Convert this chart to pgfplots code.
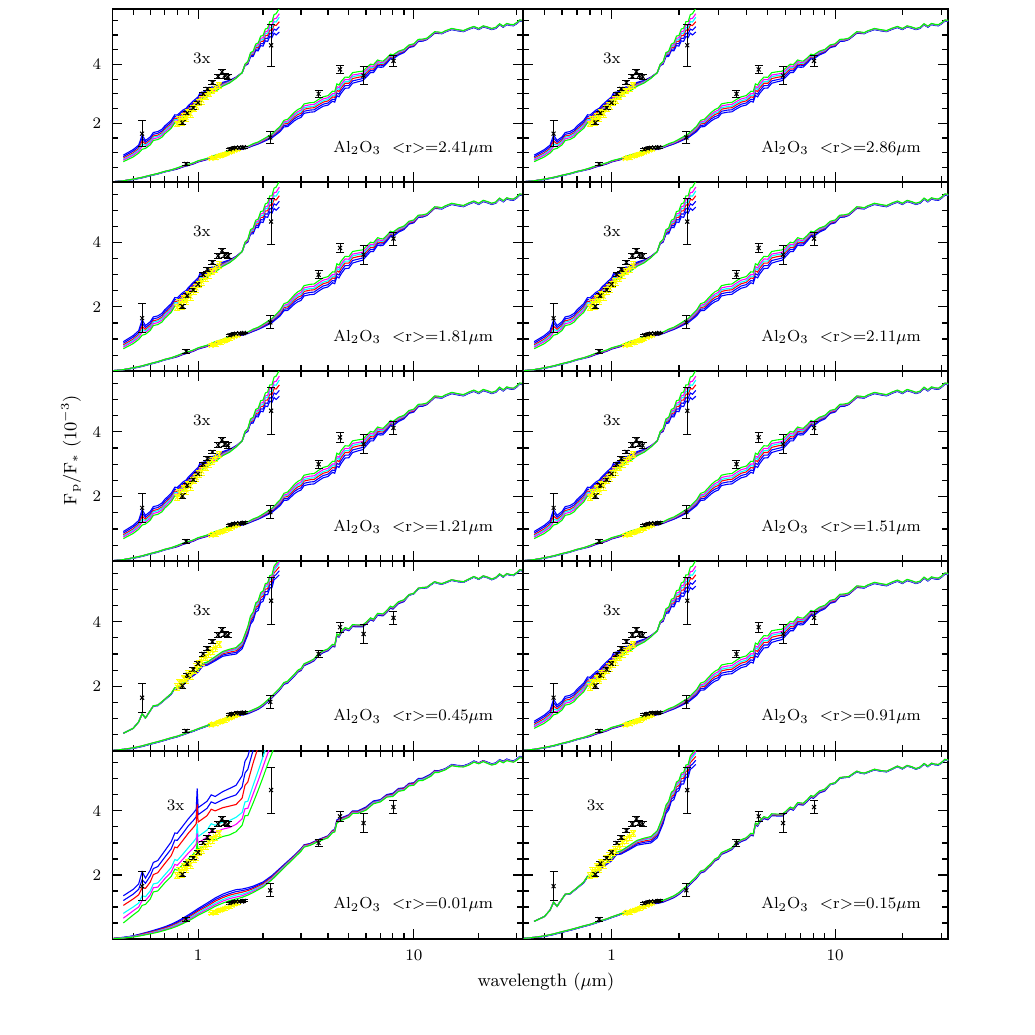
\documentclass[border=0pt]{standalone}
\usepackage{pgfplots}
\pgfplotsset{compat=1.18}
\usepackage{pgfplotstable}

\definecolor{pgb}{RGB}{0,0,255}
\definecolor{pgr}{RGB}{255,0,0}
\definecolor{pgm}{RGB}{255,0,255}
\definecolor{pgc}{RGB}{0,255,255}
\definecolor{pgg}{RGB}{0,255,0}
\definecolor{pgy}{RGB}{255,255,0}

% ---------- lower spectra, type A ----------
\pgfplotstableread{
x b1 b2 r c m g
0.405 0.02 0.02 0.02 0.02 0.02 0.02
0.45 0.05 0.05 0.05 0.05 0.05 0.05
0.5 0.09 0.10 0.10 0.10 0.11 0.11
0.55 0.15 0.16 0.16 0.16 0.17 0.17
0.6 0.22 0.23 0.23 0.23 0.24 0.24
0.65 0.28 0.29 0.29 0.29 0.30 0.30
0.7 0.35 0.36 0.36 0.36 0.37 0.37
0.75 0.40 0.41 0.41 0.41 0.42 0.42
0.8 0.45 0.46 0.47 0.48 0.48 0.49
0.85 0.52 0.53 0.54 0.55 0.55 0.56
0.9 0.57 0.58 0.59 0.60 0.60 0.61
0.95 0.62 0.63 0.64 0.65 0.65 0.66
1.0 0.69 0.70 0.71 0.72 0.72 0.73
1.1 0.77 0.78 0.79 0.80 0.80 0.81
1.2 0.87 0.88 0.89 0.90 0.91 0.92
1.3 0.94 0.95 0.96 0.97 0.98 0.99
1.4 1.02 1.03 1.04 1.05 1.06 1.07
1.5 1.08 1.09 1.10 1.11 1.12 1.13
1.6 1.12 1.13 1.14 1.15 1.16 1.17
1.7 1.17 1.18 1.19 1.20 1.21 1.22
1.8 1.24 1.25 1.27 1.28 1.29 1.31
1.9 1.30 1.31 1.33 1.34 1.35 1.37
2.0 1.37 1.39 1.41 1.43 1.44 1.46
2.2 1.51 1.54 1.57 1.59 1.61 1.64
2.4 1.72 1.76 1.80 1.83 1.86 1.90
2.5 1.88 1.93 1.98 2.02 2.05 2.10
2.6 1.89 1.94 2.00 2.04 2.08 2.14
2.8 2.09 2.16 2.22 2.27 2.32 2.38
2.9 2.16 2.23 2.30 2.35 2.40 2.47
3.0 2.20 2.27 2.34 2.39 2.45 2.52
3.1 2.34 2.41 2.48 2.53 2.59 2.66
3.3 2.38 2.45 2.52 2.57 2.63 2.70
3.45 2.39 2.46 2.53 2.58 2.64 2.71
3.6 2.48 2.55 2.62 2.67 2.73 2.80
3.8 2.58 2.65 2.72 2.77 2.83 2.90
4.0 2.62 2.69 2.76 2.81 2.87 2.94
4.2 2.75 2.82 2.90 2.96 3.01 3.09
4.3 2.72 2.80 2.88 2.94 3.00 3.08
4.4 2.94 3.03 3.12 3.19 3.25 3.34
4.5 2.90 2.99 3.08 3.15 3.21 3.30
4.6 3.02 3.11 3.20 3.27 3.33 3.42
4.8 3.19 3.28 3.36 3.42 3.49 3.57
5.0 3.20 3.28 3.36 3.42 3.48 3.56
5.2 3.36 3.44 3.52 3.58 3.64 3.72
5.5 3.41 3.48 3.56 3.62 3.67 3.75
5.8 3.45 3.52 3.59 3.64 3.70 3.77
6.0 3.56 3.63 3.70 3.75 3.80 3.87
6.3 3.72 3.79 3.85 3.90 3.95 4.01
6.5 3.72 3.78 3.84 3.89 3.93 3.99
6.8 3.92 3.97 4.02 4.06 4.10 4.15
7.0 3.90 3.95 4.00 4.04 4.07 4.12
7.2 3.91 3.96 4.00 4.03 4.07 4.11
7.5 4.04 4.08 4.12 4.15 4.18 4.22
7.8 4.19 4.22 4.26 4.29 4.31 4.35
8.0 4.18 4.21 4.24 4.26 4.29 4.32
8.5 4.32 4.35 4.38 4.40 4.42 4.45
9.0 4.40 4.43 4.45 4.47 4.49 4.51
9.5 4.57 4.59 4.61 4.63 4.64 4.66
10 4.61 4.63 4.65 4.67 4.68 4.70
10.5 4.78 4.79 4.81 4.82 4.83 4.85
11 4.79 4.80 4.82 4.83 4.84 4.86
11.5 4.84 4.85 4.86 4.87 4.88 4.89
12 4.95 4.96 4.97 4.98 4.99 5.00
12.5 5.06 5.07 5.08 5.09 5.10 5.11
13 5.05 5.06 5.07 5.08 5.09 5.10
13.5 5.04 5.05 5.06 5.06 5.07 5.08
14 5.10 5.11 5.12 5.12 5.13 5.14
15 5.18 5.19 5.20 5.20 5.21 5.22
16 5.14 5.15 5.16 5.16 5.17 5.18
17 5.11 5.12 5.13 5.13 5.14 5.15
18 5.19 5.20 5.21 5.21 5.22 5.23
19 5.25 5.26 5.27 5.27 5.28 5.29
20 5.18 5.19 5.20 5.20 5.21 5.22
21 5.27 5.28 5.29 5.29 5.30 5.31
22 5.23 5.24 5.25 5.25 5.26 5.27
23 5.18 5.19 5.20 5.20 5.21 5.22
24 5.22 5.23 5.24 5.24 5.25 5.26
25 5.34 5.35 5.36 5.36 5.37 5.38
26 5.26 5.27 5.28 5.28 5.29 5.30
27 5.35 5.36 5.37 5.37 5.38 5.39
28 5.32 5.33 5.34 5.34 5.35 5.36
29 5.31 5.32 5.33 5.33 5.34 5.35
30 5.38 5.39 5.40 5.40 5.41 5.42
31 5.47 5.48 5.49 5.49 5.50 5.51
32.5 5.45 5.46 5.47 5.47 5.48 5.49
}\loA

% ---------- upper (3x) spectra, type A ----------
\pgfplotstableread{
x b1 b2 r c m g
0.45 0.92 0.87 0.82 0.78 0.75 0.70
0.50 1.11 1.06 1.00 0.96 0.92 0.86
0.53 1.26 1.20 1.14 1.10 1.05 0.99
0.55 1.60 1.50 1.40 1.30 1.22 1.12
0.57 1.42 1.36 1.30 1.26 1.21 1.15
0.60 1.54 1.48 1.42 1.38 1.33 1.27
0.62 1.69 1.63 1.57 1.53 1.48 1.42
0.65 1.72 1.66 1.60 1.56 1.51 1.45
0.68 1.80 1.74 1.68 1.64 1.59 1.53
0.70 1.91 1.85 1.79 1.75 1.70 1.64
0.75 2.10 2.04 1.98 1.94 1.89 1.83
0.78 2.29 2.23 2.17 2.13 2.08 2.02
0.80 2.28 2.22 2.16 2.12 2.07 2.01
0.85 2.45 2.40 2.34 2.30 2.26 2.20
0.88 2.51 2.46 2.40 2.36 2.32 2.26
0.90 2.60 2.55 2.50 2.46 2.42 2.37
0.95 2.76 2.71 2.66 2.62 2.59 2.54
1.00 2.90 2.85 2.80 2.76 2.73 2.68
1.02 3.04 2.99 2.94 2.90 2.87 2.82
1.10 3.09 3.04 3.00 2.97 2.93 2.89
1.15 3.23 3.19 3.15 3.12 3.09 3.05
1.20 3.26 3.22 3.18 3.15 3.12 3.08
1.30 3.39 3.36 3.33 3.31 3.29 3.26
1.40 3.46 3.44 3.42 3.41 3.39 3.37
1.50 3.57 3.56 3.55 3.54 3.54 3.53
1.60 3.72 3.72 3.72 3.72 3.72 3.72
1.65 3.96 3.97 3.98 3.99 4.00 4.01
1.70 4.01 4.03 4.05 4.07 4.08 4.10
1.75 4.26 4.29 4.32 4.34 4.37 4.40
1.80 4.27 4.31 4.35 4.38 4.41 4.45
1.85 4.47 4.52 4.57 4.61 4.64 4.69
1.90 4.46 4.52 4.58 4.63 4.67 4.73
1.95 4.64 4.71 4.78 4.83 4.89 4.96
2.00 4.62 4.70 4.78 4.84 4.90 4.98
2.05 4.80 4.89 4.98 5.05 5.11 5.20
2.10 4.78 4.88 4.98 5.06 5.13 5.23
2.15 4.95 5.06 5.17 5.25 5.34 5.45
2.20 4.91 5.03 5.15 5.24 5.33 5.45
2.25 5.06 5.20 5.34 5.45 5.55 5.69
2.30 5.00 5.16 5.32 5.44 5.56 5.72
2.38 5.10 5.28 5.45 5.60 5.72 5.90
}\upA

% ---------- lower spectra, type B ----------
\pgfplotstableread{
x b1 b2 r c m g
0.405 0.02 0.02 0.02 0.02 0.02 0.02
0.45 0.05 0.05 0.05 0.05 0.05 0.05
0.5 0.08 0.08 0.09 0.09 0.10 0.10
0.55 0.14 0.14 0.15 0.15 0.16 0.16
0.6 0.21 0.21 0.22 0.22 0.23 0.23
0.65 0.27 0.27 0.28 0.28 0.29 0.29
0.7 0.33 0.33 0.34 0.34 0.35 0.35
0.75 0.39 0.39 0.40 0.40 0.41 0.41
0.8 0.44 0.44 0.45 0.45 0.46 0.46
0.85 0.50 0.50 0.51 0.51 0.52 0.52
0.9 0.56 0.56 0.57 0.57 0.58 0.58
0.95 0.61 0.61 0.62 0.62 0.63 0.63
1.0 0.67 0.67 0.68 0.68 0.69 0.69
1.1 0.77 0.77 0.78 0.78 0.79 0.79
1.2 0.87 0.87 0.88 0.88 0.89 0.89
1.3 0.95 0.95 0.96 0.96 0.97 0.97
1.4 1.03 1.03 1.04 1.04 1.05 1.05
1.5 1.10 1.10 1.11 1.11 1.12 1.12
1.6 1.11 1.13 1.14 1.15 1.16 1.17
1.7 1.15 1.17 1.18 1.19 1.20 1.21
1.8 1.22 1.24 1.25 1.26 1.27 1.28
1.9 1.29 1.31 1.32 1.33 1.34 1.35
2.0 1.39 1.41 1.42 1.43 1.44 1.45
2.2 1.64 1.66 1.67 1.68 1.69 1.70
2.4 1.90 1.92 1.93 1.94 1.95 1.96
2.5 2.06 2.08 2.09 2.10 2.11 2.12
2.6 2.10 2.12 2.13 2.14 2.15 2.16
2.8 2.32 2.34 2.35 2.36 2.37 2.38
2.9 2.44 2.46 2.47 2.48 2.49 2.50
3.0 2.49 2.51 2.52 2.53 2.54 2.55
3.1 2.64 2.66 2.67 2.68 2.69 2.70
3.3 2.72 2.74 2.75 2.76 2.77 2.78
3.45 2.79 2.81 2.82 2.83 2.84 2.85
3.6 2.94 2.96 2.97 2.98 2.99 3.00
3.8 3.04 3.06 3.07 3.08 3.09 3.10
4.0 3.10 3.12 3.13 3.14 3.15 3.16
4.2 3.24 3.26 3.27 3.28 3.29 3.30
4.3 3.22 3.24 3.25 3.26 3.27 3.28
4.4 3.56 3.58 3.59 3.60 3.61 3.62
4.5 3.52 3.54 3.55 3.56 3.57 3.58
4.6 3.64 3.66 3.67 3.68 3.69 3.70
4.8 3.76 3.78 3.79 3.80 3.81 3.82
5.0 3.72 3.74 3.75 3.76 3.77 3.78
5.2 3.85 3.87 3.88 3.89 3.90 3.91
5.5 3.84 3.86 3.87 3.88 3.89 3.90
5.8 3.84 3.86 3.87 3.88 3.89 3.90
6.0 3.92 3.94 3.95 3.96 3.97 3.98
6.3 4.06 4.08 4.09 4.10 4.11 4.12
6.5 4.02 4.04 4.05 4.06 4.07 4.08
6.8 4.20 4.22 4.23 4.24 4.25 4.26
7.0 4.19 4.21 4.22 4.23 4.24 4.25
7.2 4.18 4.20 4.21 4.22 4.23 4.24
7.5 4.29 4.31 4.32 4.33 4.34 4.35
7.8 4.42 4.44 4.45 4.46 4.47 4.48
8.0 4.39 4.41 4.42 4.43 4.44 4.45
8.5 4.56 4.58 4.59 4.60 4.61 4.62
9.0 4.62 4.64 4.65 4.66 4.67 4.68
9.5 4.82 4.82 4.83 4.83 4.84 4.84
10 4.86 4.86 4.87 4.87 4.88 4.88
10.5 5.02 5.02 5.03 5.03 5.04 5.04
11 5.04 5.04 5.05 5.05 5.06 5.06
11.5 5.05 5.05 5.06 5.06 5.07 5.07
12 5.14 5.14 5.15 5.15 5.16 5.16
12.5 5.22 5.22 5.23 5.23 5.24 5.24
13 5.18 5.18 5.19 5.19 5.20 5.20
13.5 5.16 5.16 5.17 5.17 5.18 5.18
14 5.20 5.20 5.21 5.21 5.22 5.22
15 5.28 5.28 5.29 5.29 5.30 5.30
16 5.24 5.24 5.25 5.25 5.26 5.26
17 5.22 5.22 5.23 5.23 5.24 5.24
18 5.30 5.30 5.31 5.31 5.32 5.32
19 5.38 5.38 5.39 5.39 5.40 5.40
20 5.31 5.31 5.32 5.32 5.33 5.33
21 5.40 5.40 5.41 5.41 5.42 5.42
22 5.36 5.36 5.37 5.37 5.38 5.38
23 5.30 5.30 5.31 5.31 5.32 5.32
24 5.35 5.35 5.36 5.36 5.37 5.37
25 5.46 5.46 5.47 5.47 5.48 5.48
26 5.38 5.38 5.39 5.39 5.40 5.40
27 5.47 5.47 5.48 5.48 5.49 5.49
28 5.44 5.44 5.45 5.45 5.46 5.46
29 5.43 5.43 5.44 5.44 5.45 5.45
30 5.50 5.50 5.51 5.51 5.52 5.52
31 5.59 5.59 5.60 5.60 5.61 5.61
32.5 5.56 5.56 5.57 5.57 5.58 5.58
}\loB

% ---------- upper (3x) spectra, type B ----------
\pgfplotstableread{
x b1 b2 r c m g
0.45 0.55 0.55 0.55 0.55 0.55 0.55
0.50 0.70 0.70 0.70 0.70 0.70 0.70
0.53 0.90 0.90 0.90 0.90 0.90 0.90
0.55 1.15 1.15 1.15 1.15 1.15 1.15
0.57 1.02 1.02 1.02 1.02 1.02 1.02
0.60 1.25 1.25 1.25 1.25 1.25 1.25
0.62 1.39 1.39 1.40 1.40 1.40 1.40
0.65 1.40 1.41 1.41 1.41 1.42 1.42
0.70 1.58 1.59 1.59 1.59 1.60 1.60
0.75 1.75 1.76 1.77 1.77 1.78 1.78
0.78 1.93 1.94 1.95 1.95 1.96 1.96
0.80 1.91 1.92 1.93 1.94 1.94 1.95
0.85 2.05 2.06 2.08 2.09 2.09 2.10
0.88 2.11 2.12 2.14 2.14 2.15 2.16
0.90 2.21 2.23 2.24 2.25 2.26 2.27
0.95 2.33 2.35 2.37 2.38 2.39 2.40
1.00 2.44 2.46 2.48 2.50 2.51 2.52
1.05 2.63 2.65 2.68 2.69 2.71 2.72
1.10 2.65 2.68 2.70 2.72 2.74 2.75
1.20 2.79 2.82 2.86 2.88 2.90 2.92
1.30 2.93 2.97 3.01 3.04 3.06 3.08
1.40 2.97 3.02 3.06 3.10 3.12 3.15
1.50 3.00 3.05 3.10 3.14 3.17 3.20
1.60 3.16 3.22 3.27 3.31 3.35 3.38
1.70 3.60 3.66 3.73 3.78 3.81 3.85
1.75 3.92 3.98 4.05 4.10 4.14 4.18
1.80 4.03 4.10 4.17 4.22 4.26 4.30
1.85 4.30 4.37 4.44 4.50 4.54 4.58
1.90 4.35 4.43 4.50 4.56 4.61 4.65
1.95 4.59 4.67 4.75 4.81 4.85 4.90
2.00 4.63 4.71 4.79 4.85 4.90 4.95
2.05 4.84 4.93 5.01 5.08 5.13 5.18
2.10 4.84 4.93 5.02 5.09 5.15 5.20
2.15 5.05 5.15 5.24 5.32 5.37 5.43
2.20 5.05 5.15 5.25 5.33 5.39 5.45
2.25 5.30 5.41 5.51 5.59 5.66 5.72
2.30 5.35 5.46 5.58 5.67 5.73 5.80
2.38 5.45 5.58 5.70 5.80 5.86 5.92
}\upB

% ---------- lower spectra, type C ----------
\pgfplotstableread{
x b1 b2 r c m g
0.405 0.02 0.02 0.02 0.01 0.01 0.01
0.45 0.05 0.05 0.04 0.04 0.03 0.03
0.5 0.10 0.09 0.08 0.08 0.07 0.06
0.55 0.17 0.16 0.15 0.13 0.12 0.11
0.6 0.24 0.22 0.21 0.19 0.18 0.16
0.65 0.31 0.29 0.27 0.25 0.23 0.21
0.7 0.38 0.36 0.34 0.31 0.29 0.27
0.75 0.46 0.43 0.41 0.38 0.36 0.33
0.8 0.55 0.52 0.49 0.46 0.43 0.40
0.85 0.65 0.62 0.58 0.55 0.51 0.48
0.9 0.75 0.71 0.67 0.64 0.60 0.56
0.95 0.85 0.81 0.77 0.73 0.69 0.65
1.0 0.95 0.91 0.87 0.82 0.78 0.74
1.1 1.12 1.07 1.02 0.98 0.93 0.88
1.2 1.28 1.23 1.18 1.12 1.07 1.02
1.3 1.40 1.34 1.29 1.23 1.18 1.12
1.4 1.48 1.42 1.37 1.31 1.26 1.20
1.5 1.54 1.48 1.42 1.37 1.31 1.25
1.6 1.56 1.51 1.46 1.40 1.35 1.30
1.7 1.60 1.55 1.51 1.46 1.42 1.37
1.8 1.65 1.61 1.57 1.53 1.49 1.45
2.0 1.78 1.75 1.72 1.68 1.65 1.62
2.2 1.98 1.95 1.93 1.90 1.88 1.85
2.5 2.32 2.30 2.28 2.26 2.24 2.22
2.8 2.62 2.60 2.59 2.57 2.56 2.54
3.0 2.82 2.80 2.79 2.77 2.76 2.74
3.1 2.94 2.93 2.92 2.90 2.89 2.87
3.3 2.98 2.97 2.96 2.94 2.93 2.92
3.6 3.10 3.09 3.08 3.06 3.05 3.04
4.0 3.22 3.21 3.20 3.18 3.17 3.16
4.2 3.39 3.38 3.37 3.35 3.34 3.32
4.3 3.42 3.40 3.39 3.37 3.36 3.34
4.4 3.72 3.70 3.68 3.66 3.64 3.62
4.6 3.78 3.76 3.75 3.73 3.72 3.70
5.0 3.88 3.86 3.85 3.83 3.82 3.80
5.2 4.00 3.98 3.97 3.95 3.94 3.92
5.5 4.00 3.98 3.97 3.95 3.94 3.92
6.0 4.12 4.10 4.08 4.06 4.04 4.02
6.5 4.31 4.29 4.27 4.26 4.24 4.22
7.0 4.35 4.34 4.32 4.31 4.29 4.28
7.5 4.51 4.49 4.48 4.46 4.45 4.43
8.0 4.55 4.53 4.51 4.49 4.47 4.45
8.5 4.70 4.68 4.67 4.65 4.63 4.61
9.0 4.72 4.70 4.69 4.67 4.66 4.64
9.5 4.86 4.84 4.83 4.81 4.80 4.78
10 4.88 4.86 4.85 4.83 4.82 4.80
10.5 5.01 5.00 4.98 4.97 4.95 4.94
11 5.02 5.01 4.99 4.98 4.96 4.95
12 5.15 5.14 5.12 5.11 5.09 5.08
12.5 5.26 5.25 5.24 5.22 5.21 5.20
13 5.25 5.24 5.23 5.22 5.21 5.20
14 5.32 5.31 5.30 5.30 5.29 5.28
15 5.45 5.44 5.43 5.43 5.42 5.41
16 5.42 5.41 5.40 5.40 5.39 5.38
17 5.41 5.40 5.39 5.39 5.38 5.37
18 5.47 5.46 5.45 5.45 5.44 5.43
19 5.56 5.55 5.54 5.54 5.53 5.52
20 5.50 5.49 5.49 5.48 5.48 5.47
21 5.57 5.56 5.56 5.55 5.55 5.54
22 5.52 5.51 5.50 5.50 5.49 5.48
23 5.47 5.46 5.45 5.45 5.44 5.43
24 5.50 5.49 5.48 5.48 5.47 5.46
25 5.60 5.59 5.58 5.58 5.57 5.56
26 5.55 5.54 5.53 5.52 5.51 5.50
27 5.62 5.61 5.60 5.60 5.59 5.57
28 5.58 5.57 5.56 5.56 5.55 5.54
29 5.56 5.55 5.54 5.54 5.53 5.52
30 5.62 5.61 5.60 5.60 5.59 5.58
31 5.70 5.69 5.68 5.68 5.67 5.66
32.5 5.68 5.67 5.66 5.66 5.65 5.64
}\loC

% ---------- upper (3x) spectra, type C ----------
\pgfplotstableread{
x b1 b2 r c m g
0.45 1.35 1.20 1.05 0.80 0.65 0.50
0.50 1.55 1.40 1.25 1.00 0.88 0.75
0.53 1.72 1.55 1.38 1.12 1.00 0.88
0.55 2.10 1.85 1.60 1.35 1.20 1.05
0.57 1.90 1.74 1.58 1.32 1.20 1.08
0.60 2.15 1.97 1.78 1.50 1.38 1.25
0.62 2.39 2.20 2.01 1.72 1.60 1.47
0.65 2.45 2.26 2.07 1.75 1.62 1.50
0.70 2.75 2.55 2.35 2.00 1.88 1.75
0.75 3.03 2.81 2.60 2.23 2.09 1.95
0.78 3.31 3.09 2.87 2.48 2.33 2.18
0.80 3.30 3.08 2.85 2.45 2.30 2.15
0.85 3.53 3.30 3.08 2.65 2.49 2.33
0.90 3.75 3.53 3.30 2.85 2.68 2.50
0.95 3.93 3.70 3.48 3.03 2.84 2.65
0.98 4.05 3.82 3.60 3.15 2.96 2.76
0.99 4.70 4.40 4.20 3.60 3.30 3.00
1.00 4.10 3.88 3.65 3.20 3.00 2.80
1.10 4.30 4.08 3.85 3.40 3.18 2.95
1.15 4.50 4.28 4.05 3.60 3.38 3.15
1.20 4.45 4.23 4.00 3.55 3.33 3.10
1.30 4.60 4.35 4.10 3.65 3.43 3.20
1.40 4.70 4.43 4.15 3.70 3.48 3.25
1.50 4.80 4.50 4.20 3.80 3.58 3.35
1.60 5.10 4.75 4.40 3.95 3.75 3.55
1.65 5.55 5.18 4.80 4.28 4.07 3.85
1.70 5.70 5.30 4.90 4.30 4.08 3.85
1.80 6.30 5.90 5.50 4.80 4.53 4.25
1.90 7.00 6.50 6.00 5.25 4.95 4.65
2.00 7.50 7.00 6.50 5.70 5.38 5.05
2.10 8.00 7.50 7.00 6.10 5.78 5.45
2.20 8.50 7.95 7.40 6.50 6.15 5.80
2.30 9.00 8.40 7.80 6.90 6.53 6.15
}\upC

% ---------- observations ----------
\pgfplotstableread{
x y e
0.88 0.62 0.06
2.16 1.52 0.20
3.62 3.00 0.12
4.55 3.83 0.15
5.85 3.62 0.30
8.05 4.12 0.20
1.40 1.12 0.03
1.45 1.15 0.03
1.50 1.17 0.03
1.55 1.18 0.03
1.60 1.17 0.03
1.63 1.19 0.03
}\blkLo

\pgfplotstableread{
x y e
0.55 1.65 0.45
0.846 2.02 0.07
0.89 2.35 0.06
0.95 2.52 0.05
1.00 2.70 0.06
1.055 3.00 0.06
1.105 3.17 0.06
1.165 3.38 0.06
1.238 3.59 0.08
1.291 3.75 0.08
1.329 3.62 0.08
1.377 3.58 0.08
2.18 4.65 0.72
}\blkUp

\pgfplotstableread{
x y e
0.80 1.98 0.10
0.82 2.12 0.10
0.84 2.05 0.12
0.86 2.25 0.10
0.88 2.20 0.12
0.90 2.38 0.10
0.92 2.32 0.12
0.95 2.50 0.10
0.98 2.58 0.12
1.01 2.70 0.10
1.04 2.78 0.12
1.08 2.90 0.10
1.12 3.02 0.12
1.16 3.10 0.10
1.20 3.20 0.12
1.25 3.30 0.10
}\yelUp

\pgfplotstableread{
x y e
1.15 0.80 0.04
1.18 0.84 0.04
1.21 0.83 0.05
1.24 0.88 0.04
1.27 0.90 0.05
1.30 0.93 0.04
1.33 0.95 0.05
1.36 0.98 0.04
1.40 1.02 0.05
1.44 1.05 0.04
1.48 1.09 0.05
1.52 1.12 0.04
}\yelLo

\newcommand{\spec}[1]{%
  \addplot[pgb, line width=0.55pt] table[x=x,y=b1]{#1};
  \addplot[pgb, line width=0.55pt] table[x=x,y=b2]{#1};
  \addplot[pgr, line width=0.55pt] table[x=x,y=r]{#1};
  \addplot[pgc, line width=0.55pt] table[x=x,y=c]{#1};
  \addplot[pgm, line width=0.55pt] table[x=x,y=m]{#1};
  \addplot[pgg, line width=0.55pt] table[x=x,y=g]{#1};
}
\newcommand{\obs}{%
  \addplot[pgy, only marks, mark=x, mark size=1.6pt, line width=0.5pt,
    error bars/.cd, y dir=both, y explicit,
    error bar style={pgy, line width=0.4pt}]
    table[x=x,y=y,y error=e]{\yelUp};
  \addplot[pgy, only marks, mark=x, mark size=1.6pt, line width=0.5pt,
    error bars/.cd, y dir=both, y explicit,
    error bar style={pgy, line width=0.4pt}]
    table[x=x,y=y,y error=e]{\yelLo};
  \addplot[black, only marks, mark=x, mark size=1.4pt, line width=0.5pt,
    error bars/.cd, y dir=both, y explicit,
    error bar style={black, line width=0.45pt},
    error mark options={rotate=90, mark size=2pt, line width=0.45pt}]
    table[x=x,y=y,y error=e]{\blkUp};
  \addplot[black, only marks, mark=x, mark size=1.4pt, line width=0.5pt,
    error bars/.cd, y dir=both, y explicit,
    error bar style={black, line width=0.45pt},
    error mark options={rotate=90, mark size=2pt, line width=0.45pt}]
    table[x=x,y=y,y error=e]{\blkLo};
}
\newcommand{\lab}[2]{%
  \node[anchor=base west, yshift=15pt, inner sep=0pt, font=\fontsize{8}{9.6}\selectfont]
    at (rel axis cs:#2,0) {Al$_2$O$_3$\ \ $<$r$>$=#1$\mu$m};
}
\newcommand{\three}[2]{%
  \node[anchor=base west, yshift=#2, inner sep=0pt, font=\fontsize{8}{9.6}\selectfont]
    at (rel axis cs:#1,1) {3x};
}

\pgfplotsset{
  every axis/.append style={
    scale only axis,
    xmin=0.4, xmax=32, ymin=0, ymax=5.87,
    xtick={1,10}, minor xtick={0.5,0.6,0.7,0.8,0.9,2,3,4,5,6,7,8,9,20,30},
    ytick={2,4}, minor ytick={0.5,1,1.5,2.5,3,3.5,4.5,5,5.5},
    tick align=inside,
    xtick pos=both, ytick pos=both,
    major tick length=5pt, minor tick length=3pt,
    axis line style={line width=0.8pt},
    tick style={black, line width=0.6pt},
    tick label style={font=\fontsize{8}{9.6}\selectfont},
    xticklabel style={yshift=-2pt},
    yticklabel style={xshift=-2pt},
  },
}

\begin{document}
\begin{tikzpicture}
\path[use as bounding box] (0pt,0pt) rectangle (517.5pt,517.5pt);

% ---------------- row 1 ----------------
\begin{semilogxaxis}[anchor=south west, at={(56.15pt,426.35pt)}, width=205.2pt, height=86.5pt, xticklabels={}, yticklabels={2,4}]
  \spec{\loA}\spec{\upA}\obs
  \lab{2.41}{0.538}\three{0.196}{-27pt}
\end{semilogxaxis}
\begin{semilogxaxis}[anchor=south west, at={(261.35pt,426.35pt)}, width=212.65pt, height=86.5pt, xticklabels={}, yticklabels={}]
  \spec{\loA}\spec{\upA}\obs
  \lab{2.86}{0.56}\three{0.188}{-27pt}
\end{semilogxaxis}

% ---------------- row 2 ----------------
\begin{semilogxaxis}[anchor=south west, at={(56.15pt,331.85pt)}, width=205.2pt, height=94.5pt, xticklabels={}, yticklabels={2,4}]
  \spec{\loA}\spec{\upA}\obs
  \lab{1.81}{0.538}\three{0.196}{-27pt}
\end{semilogxaxis}
\begin{semilogxaxis}[anchor=south west, at={(261.35pt,331.85pt)}, width=212.65pt, height=94.5pt, xticklabels={}, yticklabels={}]
  \spec{\loA}\spec{\upA}\obs
  \lab{2.11}{0.56}\three{0.188}{-27pt}
\end{semilogxaxis}

% ---------------- row 3 ----------------
\begin{semilogxaxis}[anchor=south west, at={(56.15pt,236.85pt)}, width=205.2pt, height=95pt, xticklabels={}, yticklabels={2,4}]
  \spec{\loA}\spec{\upA}\obs
  \lab{1.21}{0.538}\three{0.196}{-27pt}
\end{semilogxaxis}
\begin{semilogxaxis}[anchor=south west, at={(261.35pt,236.85pt)}, width=212.65pt, height=95pt, xticklabels={}, yticklabels={}]
  \spec{\loA}\spec{\upA}\obs
  \lab{1.51}{0.56}\three{0.188}{-27pt}
\end{semilogxaxis}

% ---------------- row 4 ----------------
\begin{semilogxaxis}[anchor=south west, at={(56.15pt,142pt)}, width=205.2pt, height=94.85pt, xticklabels={}, yticklabels={2,4}]
  \spec{\loB}\spec{\upB}\obs
  \lab{0.45}{0.538}\three{0.196}{-27pt}
\end{semilogxaxis}
\begin{semilogxaxis}[anchor=south west, at={(261.35pt,142pt)}, width=212.65pt, height=94.85pt, xticklabels={}, yticklabels={}]
  \spec{\loA}\spec{\upA}\obs
  \lab{0.91}{0.56}\three{0.188}{-27pt}
\end{semilogxaxis}

% ---------------- row 5 ----------------
\begin{semilogxaxis}[anchor=south west, at={(56.15pt,48pt)}, width=205.2pt, height=94pt, xticklabels={1,10}, yticklabels={2,4}]
  \spec{\upC}\spec{\loC}\obs
  \lab{0.01}{0.538}\three{0.132}{-30pt}
\end{semilogxaxis}
\begin{semilogxaxis}[anchor=south west, at={(261.35pt,48pt)}, width=212.65pt, height=94pt, xticklabels={1,10}, yticklabels={}]
  \spec{\loB}\spec{\upB}\obs
  \lab{0.15}{0.56}\three{0.15}{-30pt}
\end{semilogxaxis}

\node[rotate=90, font=\fontsize{9}{10.8}\selectfont] at (35.5pt,292.5pt) {F$_{\rm p}$/F$_\ast$ (10$^{-3}$)};
\node[font=\fontsize{9}{10.8}\selectfont] at (273pt,26.5pt) {wavelength ($\mu$m)};
\end{tikzpicture}
\end{document}
